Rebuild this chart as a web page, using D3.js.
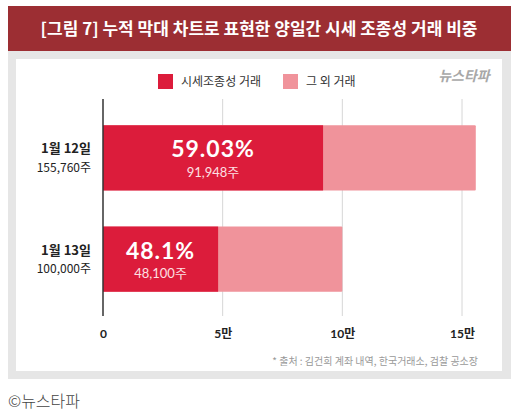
<!DOCTYPE html>
<html>
<head>
<meta charset="utf-8">
<script src="https://cdn.jsdelivr.net/npm/d3@7"></script>
<style>
  body { margin: 0; background: #fff; font-family: "Noto Sans CJK KR", "Noto Sans", sans-serif; }
</style>
</head>
<body>
<svg id="chart" width="518" height="419"></svg>
<script>
// data
var days = ["1월 12일", "1월 13일"];
var totals = [155760, 100000];
var manipulated = [91948, 48100];
var shares = ["59.03%", "48.1%"];
var tickValues = [0, 50000, 100000, 150000];
var tickLabels = ["0", "5만", "10만", "15만"];
var seriesNames = ["시세조종성 거래", "그 외 거래"];

var colors = { main: "#dc1c3b", rest: "#f0939b", header: "#9c2e33", frame: "#e6e6e6" };
var numFont = "Lato, 'Noto Sans CJK KR', sans-serif";

var svg = d3.select("#chart");

// frame + header
svg.append("rect").attr("x", 8).attr("y", 6).attr("width", 503).attr("height", 373).style("fill", colors.frame);
svg.append("rect").attr("x", 8).attr("y", 6).attr("width", 503).attr("height", 45).style("fill", colors.header);
svg.append("rect").attr("x", 16).attr("y", 59).attr("width", 486).attr("height", 312).style("fill", "#fff");

svg.append("text")
    .attr("x", 259).attr("y", 29)
    .attr("text-anchor", "middle").attr("dy", "0.35em")
    .style("fill", "#fff").style("font-size", "17px").style("font-weight", "bold")
    .text("[그림 7] 누적 막대 차트로 표현한 양일간 시세 조종성 거래 비중");

// logo
svg.append("text")
    .attr("x", 464).attr("y", 76)
    .attr("text-anchor", "middle").attr("dy", "0.35em")
    .style("fill", "#a8a8a8").style("font-size", "14px").style("font-weight", "bold")
    .style("font-style", "italic")
    .text("뉴스타파");

// legend
var legend = svg.append("g").attr("class", "legend");
var legendX = [158, 283];
seriesNames.forEach(function(name, i) {
    legend.append("rect")
        .attr("x", legendX[i]).attr("y", 74).attr("width", 15).attr("height", 15)
        .style("fill", i === 0 ? colors.main : colors.rest);
    legend.append("text")
        .attr("x", legendX[i] + 23).attr("y", 81.5).attr("dy", "0.35em")
        .style("font-size", "12px").style("fill", "#333")
        .text(name);
});

// scales
var x = d3.scaleLinear().domain([0, 150000]).range([103, 462]);
var y = d3.scaleBand().domain(days).range([105, 312]).paddingInner(0.356).paddingOuter(0.2);

// grid
var grid = svg.append("g");
grid.selectAll("line.grid")
    .data(tickValues.slice(1))
    .enter().append("line")
    .attr("class", "grid")
    .attr("x1", function(d) { return x(d); })
    .attr("x2", function(d) { return x(d); })
    .attr("y1", 99).attr("y2", 316)
    .style("stroke", "#d6d6d6").style("stroke-width", 1);

// bars
var rows = days.map(function(d, i) {
    return { day: d, total: totals[i], main: manipulated[i], share: shares[i] };
});

var bar = svg.selectAll(".row").data(rows).enter().append("g").attr("class", "row");

bar.append("rect")
    .attr("x", x(0))
    .attr("y", function(d) { return y(d.day); })
    .attr("width", function(d) { return x(d.total) - x(0); })
    .attr("height", y.bandwidth())
    .attr("rx", 1)
    .style("fill", colors.rest);

bar.append("rect")
    .attr("x", x(0))
    .attr("y", function(d) { return y(d.day); })
    .attr("width", function(d) { return x(d.main) - x(0); })
    .attr("height", y.bandwidth())
    .style("fill", colors.main);

// in-bar labels
bar.append("text")
    .attr("x", function(d) { return (x(0) + x(d.main)) / 2; })
    .attr("y", function(d) { return y(d.day) + y.bandwidth() * 0.37; })
    .attr("text-anchor", "middle").attr("dy", "0.35em")
    .style("font-family", numFont)
    .style("fill", "#fff").style("font-size", "23px").style("font-weight", "bold")
    .style("letter-spacing", "1px")
    .text(function(d) { return d.share; });

bar.append("text")
    .attr("x", function(d) { return (x(0) + x(d.main)) / 2; })
    .attr("y", function(d) { return y(d.day) + y.bandwidth() * 0.72; })
    .attr("text-anchor", "middle").attr("dy", "0.35em")
    .style("font-family", numFont)
    .style("fill", "#fde0e3").style("font-size", "13px")
    .text(function(d) { return d3.format(",")(d.main) + "주"; });

// category labels
bar.append("text")
    .attr("x", 91)
    .attr("y", function(d) { return y(d.day) + y.bandwidth() * 0.36; })
    .attr("text-anchor", "end").attr("dy", "0.35em")
    .style("fill", "#222").style("font-size", "13px").style("font-weight", "bold")
    .text(function(d) { return d.day; });

bar.append("text")
    .attr("x", 91)
    .attr("y", function(d) { return y(d.day) + y.bandwidth() * 0.65; })
    .attr("text-anchor", "end").attr("dy", "0.35em")
    .style("fill", "#222").style("font-size", "12px")
    .text(function(d) { return d3.format(",")(d.total) + "주"; });

// baseline
svg.append("line")
    .attr("x1", x(0)).attr("x2", x(0)).attr("y1", 99).attr("y2", 316)
    .style("stroke", "#333").style("stroke-width", 1.5);

// x axis
var xAxis = d3.axisBottom(x)
    .tickValues(tickValues)
    .tickSize(0)
    .tickFormat(function(d, i) { return tickLabels[i]; });

var axisG = svg.append("g").attr("transform", "translate(0,326)").call(xAxis);
axisG.select(".domain").remove();
axisG.selectAll("text")
    .style("font-family", numFont)
    .style("font-size", "12px").style("font-weight", "bold").style("fill", "#222");

// source
svg.append("text")
    .attr("x", 478).attr("y", 361)
    .attr("text-anchor", "end").attr("dy", "0.35em")
    .style("fill", "#999").style("font-size", "10px")
    .text("* 출처 : 김건희 계좌 내역, 한국거래소, 검찰 공소장");

// credit
svg.append("text")
    .attr("x", 8).attr("y", 401)
    .attr("dy", "0.35em")
    .style("fill", "#444").style("font-size", "16px").style("font-weight", 300)
    .text("©뉴스타파");
</script>
</body>
</html>
